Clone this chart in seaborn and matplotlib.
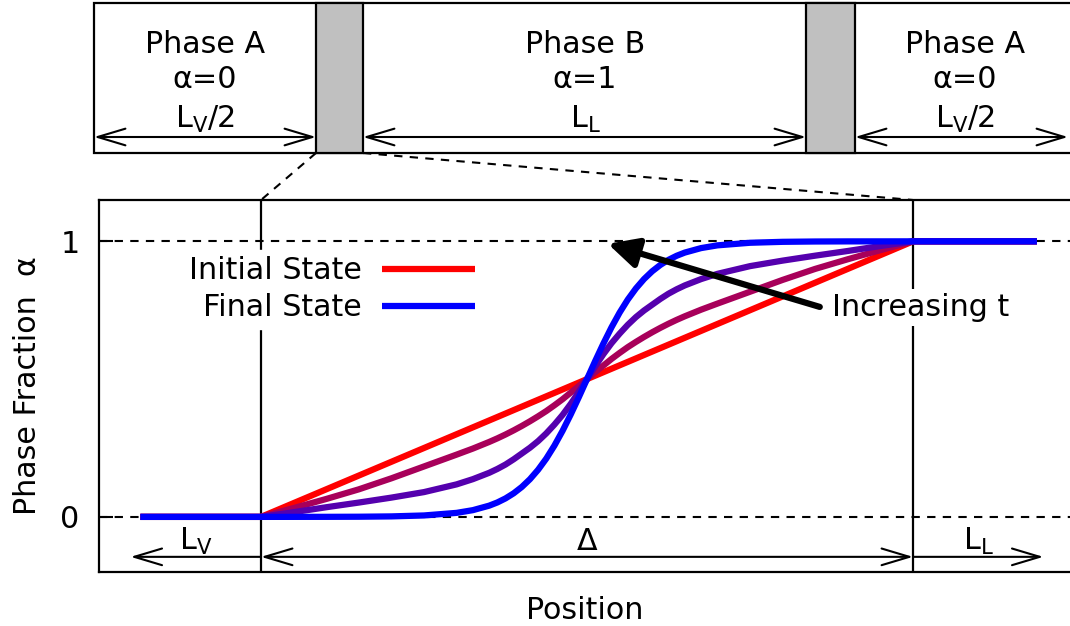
import numpy as np
import pandas as pd
import matplotlib
matplotlib.use("Agg")
import matplotlib.pyplot as plt
from matplotlib.patches import Rectangle
import seaborn as sns

# ---------------- data ----------------
position = [-0.185, 0.0, 0.05, 0.1, 0.15, 0.2, 0.25, 0.3, 0.325, 0.35, 0.3625, 0.375,
            0.3875, 0.4, 0.4125, 0.425, 0.4375, 0.45, 0.4625, 0.475, 0.4875, 0.5,
            0.5125, 0.525, 0.5375, 0.55, 0.5625, 0.575, 0.5875, 0.6, 0.6125, 0.625,
            0.6375, 0.65, 0.675, 0.7, 0.75, 0.8, 0.85, 0.9, 0.95, 1.0, 1.19]
alpha_initial = [0.0, 0.0, 0.05, 0.1, 0.15, 0.2, 0.25, 0.3, 0.325, 0.35, 0.3625, 0.375,
                 0.3875, 0.4, 0.4125, 0.425, 0.4375, 0.45, 0.4625, 0.475, 0.4875, 0.5,
                 0.5125, 0.525, 0.5375, 0.55, 0.5625, 0.575, 0.5875, 0.6, 0.6125, 0.625,
                 0.6375, 0.65, 0.675, 0.7, 0.75, 0.8, 0.85, 0.9, 0.95, 1.0, 1.0]
alpha_early = [0.0, 0.0, 0.032, 0.065, 0.1, 0.14, 0.183, 0.226, 0.248, 0.272, 0.285, 0.299,
               0.314, 0.33, 0.347, 0.365, 0.384, 0.405, 0.427, 0.451, 0.475, 0.5,
               0.525, 0.549, 0.573, 0.595, 0.616, 0.635, 0.653, 0.67, 0.686, 0.701,
               0.715, 0.728, 0.752, 0.774, 0.817, 0.86, 0.9, 0.935, 0.968, 1.0, 1.0]
alpha_late = [0.0, 0.0, 0.017, 0.035, 0.052, 0.07, 0.09, 0.118, 0.137, 0.16, 0.174, 0.19,
              0.209, 0.23, 0.251, 0.275, 0.303, 0.335, 0.37, 0.41, 0.454, 0.5,
              0.546, 0.59, 0.63, 0.665, 0.697, 0.725, 0.749, 0.77, 0.791, 0.81,
              0.826, 0.84, 0.863, 0.882, 0.91, 0.93, 0.948, 0.965, 0.983, 1.0, 1.0]
alpha_final = [0.0, 0.0, 0.0001, 0.0002, 0.0006, 0.0018, 0.0052, 0.0146, 0.0245, 0.0408,
               0.0524, 0.0671, 0.0856, 0.1086, 0.1368, 0.171, 0.2115, 0.2587, 0.3123,
               0.3715, 0.4346, 0.5, 0.5654, 0.6285, 0.6877, 0.7413, 0.7885, 0.829,
               0.8632, 0.8914, 0.9144, 0.9329, 0.9476, 0.9592, 0.9755, 0.9854, 0.9948,
               0.9982, 0.9994, 0.9998, 0.9999, 1.0, 1.0]
curve_names = ["Initial State", "Early", "Late", "Final State"]
curve_colors = ["#ff0000", "#a8005a", "#5500ae", "#0000ff"]
y_ticks = [0, 1]
y_tick_labels = ["0", "1"]

# ---------------- style ----------------
sns.set_theme(style="white")
plt.rcParams["font.family"] = ["DejaVu Sans"]
plt.rcParams["mathtext.fontset"] = "dejavusans"
for key in ["text.color", "axes.labelcolor", "xtick.color", "ytick.color", "axes.edgecolor"]:
    plt.rcParams[key] = "black"
FS = 21.7

fig = plt.figure(figsize=(10.7, 6.26), dpi=100)

# overlay axes in pixel coordinates for the schematic on top
ov = fig.add_axes([0, 0, 1, 1])
ov.set_xlim(0, 1070)
ov.set_ylim(626, 0)
ov.axis("off")
ov.patch.set_alpha(0)

box_left, box_top, box_bottom, box_right = 94, 3, 153, 1080
interfaces = [(316, 363), (806, 855)]
arrow_y = 137
ov.add_patch(Rectangle((box_left, box_top), box_right - box_left, box_bottom - box_top,
                       facecolor="white", edgecolor="black", lw=1.6))
for x0, x1 in interfaces:
    ov.add_patch(Rectangle((x0, box_top), x1 - x0, box_bottom - box_top,
                           facecolor="#c0c0c0", edgecolor="black", lw=1.6))
segments = [(box_left, 316), (363, 806), (855, 1068)]
arrow_kw = dict(arrowstyle="<->,head_length=1.0,head_width=0.3", lw=1.5, color="black",
                shrinkA=0, shrinkB=0, mutation_scale=20)
for x0, x1 in segments:
    ov.annotate("", xy=(x1, arrow_y), xytext=(x0, arrow_y), arrowprops=arrow_kw)
top_labels = [("Phase A", "α=0", r"L$_\mathrm{V}$/2", 205),
              ("Phase B", "α=1", r"L$_\mathrm{L}$", 585),
              ("Phase A", "α=0", r"L$_\mathrm{V}$/2", 965)]
for name, val, length, xc in top_labels:
    ov.text(xc, 53, name, ha="center", va="baseline", fontsize=FS)
    ov.text(xc, 88, val, ha="center", va="baseline", fontsize=FS)
    ov.text(xc, 128, length, ha="center", va="baseline", fontsize=FS)
dash = (0, (4, 3.5))
ov.plot([316, 261], [153, 200], color="black", lw=1.5, ls=dash)
ov.plot([363, 913], [153, 200], color="black", lw=1.5, ls=dash)

# ---------------- main axes ----------------
ax = fig.add_axes([99 / 1070, 54 / 626, 971 / 1070, 372 / 626])
ax.set_xlim(-0.2485, 1.2408)
ax.set_ylim(-0.2, 1.15)
for s in ax.spines.values():
    s.set_color("black")
    s.set_linewidth(1.6)
ax.spines["right"].set_visible(False)

ax.axhline(0, color="black", lw=1.5, ls=dash, zorder=1)
ax.axhline(1, color="black", lw=1.5, ls=dash, zorder=1)
ax.axvline(0, color="black", lw=1.6, zorder=1)
ax.axvline(1, color="black", lw=1.6, zorder=1)

series = [alpha_initial, alpha_early, alpha_late, alpha_final]
handles = {}
for name, vals, col in zip(curve_names, series, curve_colors):
    df = pd.DataFrame({"position": position, "alpha": vals})
    sns.lineplot(data=df, x="position", y="alpha", color=col, lw=4.5, sort=False,
                 estimator=None, ax=ax, legend=False, zorder=2)
    ln = ax.lines[-1]
    ln.set_solid_capstyle("butt")
    ln.set_solid_joinstyle("round")
    handles[name] = ln

leg = ax.legend([handles["Initial State"], handles["Final State"]],
                ["Initial State", "Final State"], markerfirst=False, loc="center",
                bbox_to_anchor=(0.240, 0.760), fontsize=FS, handlelength=3.1,
                handletextpad=0.65, labelspacing=0.28, borderpad=0.2,
                borderaxespad=0, fancybox=False, frameon=True, framealpha=1)
leg.get_frame().set_facecolor("white")
leg.get_frame().set_edgecolor("white")

ax.annotate("", xy=(0.532, 0.991), xytext=(0.857, 0.762),
            arrowprops=dict(arrowstyle="-|>,head_length=0.9,head_width=0.45", lw=4.5,
                            color="black", shrinkA=0, shrinkB=0, mutation_scale=20),
            zorder=4)
ax.text(0.876, 0.759, "Increasing t", ha="left", va="center", fontsize=FS,
        bbox=dict(facecolor="white", edgecolor="none", pad=3), zorder=4)

# bottom dimension arrows
dim_y = -0.145
akw = dict(lw=1.5, color="black", shrinkA=0, shrinkB=0, mutation_scale=20)
ax.annotate("", xy=(-0.2, dim_y), xytext=(0, dim_y),
            arrowprops=dict(arrowstyle="->,head_length=1.0,head_width=0.3", **akw))
ax.annotate("", xy=(1, dim_y), xytext=(0, dim_y),
            arrowprops=dict(arrowstyle="<->,head_length=1.0,head_width=0.3", **akw))
ax.annotate("", xy=(1.2, dim_y), xytext=(1, dim_y),
            arrowprops=dict(arrowstyle="->,head_length=1.0,head_width=0.3", **akw))
ax.text(-0.1, -0.12, r"L$_\mathrm{V}$", ha="center", va="baseline", fontsize=FS)
ax.text(0.5, -0.12, "Δ", ha="center", va="baseline", fontsize=FS)
ax.text(1.1, -0.12, r"L$_\mathrm{L}$", ha="center", va="baseline", fontsize=FS)

ax.set_xticks([])
ax.set_yticks(y_ticks)
ax.set_yticklabels(y_tick_labels)
ax.tick_params(axis="y", direction="in", length=10, width=1.5, pad=14, labelsize=FS,
               left=True, colors="black")
ax.set_ylabel("Phase Fraction  α", fontsize=FS, labelpad=13, color="black")
ax.set_xlabel("Position", fontsize=FS, labelpad=17, color="black")

fig.savefig("out.png", dpi=100)
